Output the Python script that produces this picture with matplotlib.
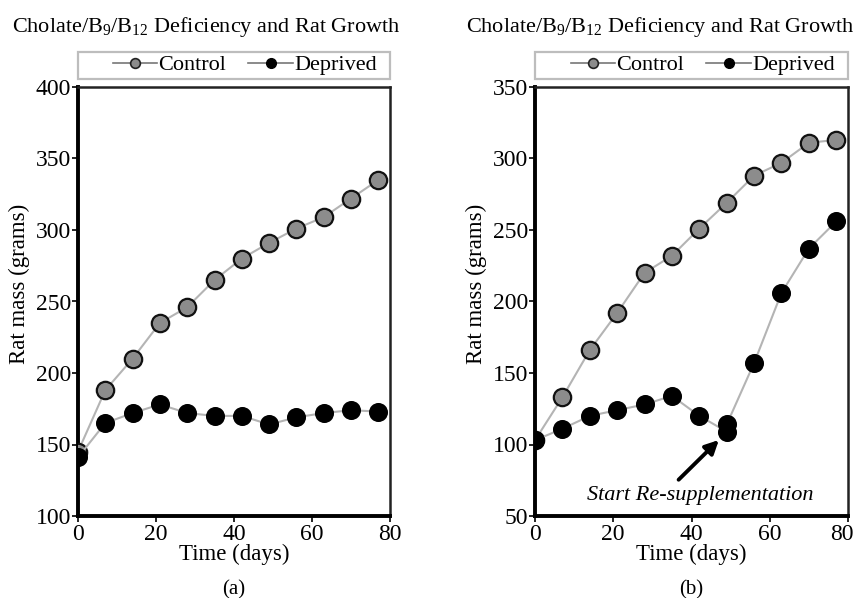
import matplotlib
matplotlib.use("Agg")
import matplotlib.pyplot as plt
import matplotlib.transforms as mtransforms
from matplotlib.patches import Rectangle
from matplotlib.lines import Line2D

plt.rcParams['font.family'] = ['Liberation Serif', 'DejaVu Serif']
plt.rcParams['mathtext.fontset'] = 'custom'
plt.rcParams['mathtext.rm'] = 'Liberation Serif'
plt.rcParams['mathtext.it'] = 'Liberation Serif:italic'

# ---- data ----
days = [0, 7, 14, 21, 28, 35, 42, 49, 56, 63, 70, 77]
control_a = [145, 188, 210, 235, 246, 265, 280, 291, 301, 309, 322, 335]
deprived_a = [141, 165, 172, 178, 172, 170, 170, 164, 169, 172, 174, 173]

control_b = [103, 133, 166, 192, 220, 232, 251, 269, 288, 297, 311, 313]
days_dep_b = [0, 7, 14, 21, 28, 35, 42, 49, 49, 56, 63, 70, 77]
deprived_b = [103, 111, 120, 124, 128, 134, 120, 109, 114, 157, 206, 237, 256]

title = r'Cholate/B$_9$/B$_{12}$ Deficiency and Rat Growth'
panel_labels = ['(a)', '(b)']
ylims = [(100, 400), (50, 350)]

W, H = 858, 598
fig = plt.figure(figsize=(W / 100, H / 100), dpi=100)

ax_px = [(78, 312), (535, 313)]
top, bot = 87, 516

line_col = '#b4b4b4'
ctrl_face = '#8c8c8c'

panels = [(days, control_a, days, deprived_a), (days, control_b, days_dep_b, deprived_b)]

for i, (x0, w) in enumerate(ax_px):
    ax = fig.add_axes([x0 / W, (H - bot) / H, w / W, (bot - top) / H])
    xc, yc, xd, yd = panels[i]
    ax.plot(xc, yc, color=line_col, lw=1.5, marker='o', ms=12.5,
            mfc=ctrl_face, mec='#111111', mew=1.6, zorder=3)
    ax.plot(xd, yd, color=line_col, lw=1.5, marker='o', ms=12.5,
            mfc='black', mec='black', mew=1.2, zorder=4)
    ax.set_xlim(0, 80)
    ax.set_ylim(*ylims[i])
    ax.set_xticks([0, 20, 40, 60, 80])
    lo, hi = ylims[i]
    ax.set_yticks(list(range(lo, hi + 1, 50)))
    ax.tick_params(labelsize=17, direction='out', length=4, width=1.2, colors='black')
    ax.tick_params(axis='x', pad=2)
    ax.tick_params(axis='y', pad=1)
    for s in ['left', 'bottom']:
        ax.spines[s].set_linewidth(2.8)
        ax.spines[s].set_color('black')
    for s in ['top', 'right']:
        ax.spines[s].set_linewidth(1.8)
        ax.spines[s].set_color('#222222')
    ax.set_xlabel('Time (days)', fontsize=16.5, labelpad=0)
    ax.xaxis.set_label_coords(0.5, -0.065)
    ax.xaxis.label.set_va('top')
    ax.set_ylabel('Rat mass (grams)', fontsize=16.5)
    ax.yaxis.set_label_coords(-0.187, 0.54)
    ax.yaxis.label.set_va('center')
    ax.text(0.5, -0.172, panel_labels[i], transform=ax.transAxes, ha='center',
            va='center', fontsize=15)
    # title
    ax.text(0.41 if i == 0 else 0.40, 1.14, title, transform=ax.transAxes, ha='center',
            va='center', fontsize=16)
    # legend box
    rect = Rectangle((0, 1.0193), 1.0, 0.063, transform=ax.transAxes, fill=False,
                     ec='#bdbdbd', lw=1.6, clip_on=False)
    ax.add_patch(rect)
    handles = [Line2D([], [], color='#777777', lw=1.2, marker='o', ms=7,
                      mfc=ctrl_face, mec='#222222', mew=1.2),
               Line2D([], [], color='#777777', lw=1.2, marker='o', ms=7,
                      mfc='black', mec='black')]
    ax.legend(handles, ['Control', 'Deprived'], loc='center right',
              bbox_to_anchor=(1.0, 1.051), ncol=2, frameon=False, fontsize=16,
              handlelength=2.0, handletextpad=0.05, columnspacing=1.0,
              borderaxespad=0.2)
    if i == 1:
        ax.annotate('', xy=(47.5, 104.5), xytext=(36.2, 74),
                    arrowprops=dict(arrowstyle='-|>,head_length=0.8,head_width=0.4',
                                    color='black', lw=2.8))
        ax.text(42.2, 64, 'Start Re-supplementation', fontsize=16, style='italic',
                ha='center', va='center', zorder=5,
                bbox=dict(fc='white', ec='none', pad=1))
        fig.canvas.draw()
        last = ax.get_xticklabels()[-1]
        last.set_transform(last.get_transform() +
                           mtransforms.ScaledTranslation(-6 / 100, 0, fig.dpi_scale_trans))

fig.savefig('out.png', dpi=100)
